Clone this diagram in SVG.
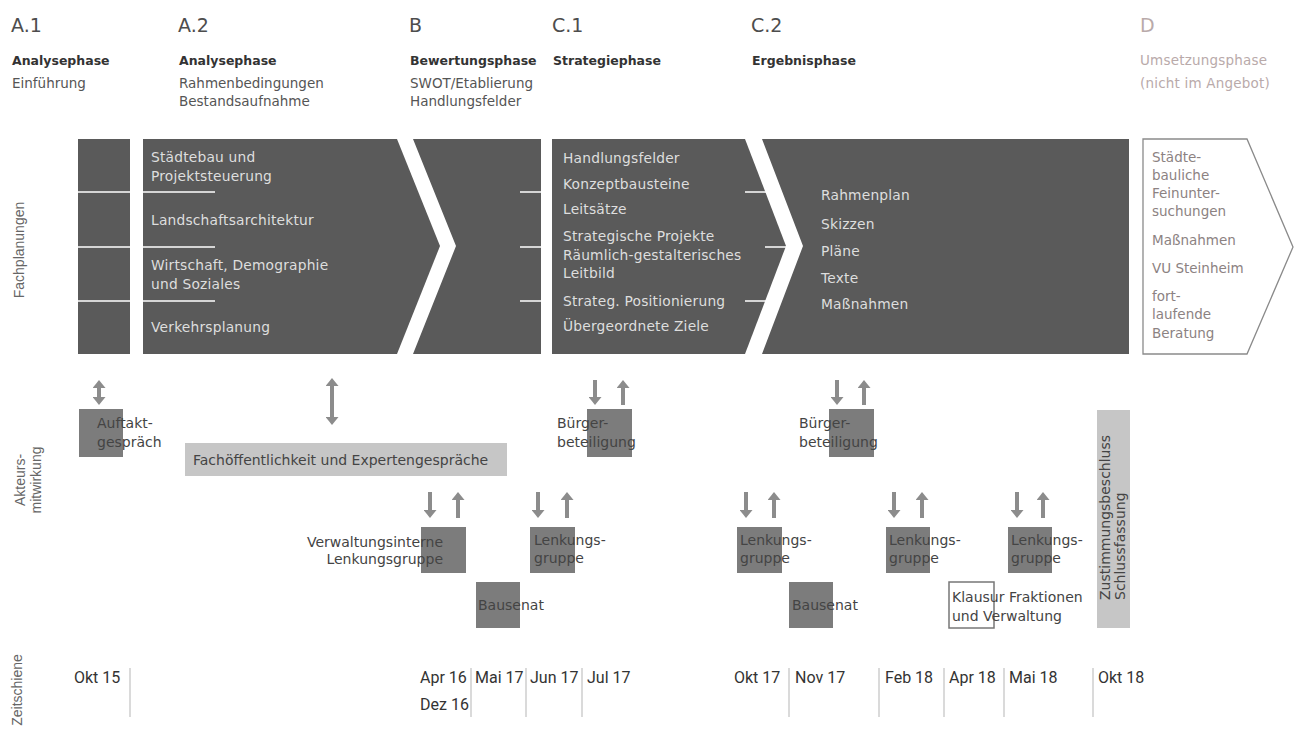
<svg xmlns="http://www.w3.org/2000/svg" width="1295" height="731" viewBox="0 0 1295 731">
<style>
 text{font-family:"DejaVu Sans",sans-serif;}
 .pid{font-size:19px;fill:#4d4d4d;}
 .pname{font-size:12.5px;font-weight:bold;fill:#333;}
 .psub{font-size:13.5px;fill:#555;}
 .dh{fill:#b9aaaa;}
 .blk{fill:#5a5a5a;}
 .bt{font-size:13.8px;fill:#dedede;letter-spacing:0.2px;}
 .sep{stroke:#fff;stroke-width:1.5;}
 .dbox{fill:#fff;stroke:#8a8a8a;stroke-width:1.3;}
 .dt{font-size:13.5px;fill:#8c8282;}
 .side{font-family:"Liberation Sans",sans-serif;font-size:14px;fill:#666;}
 .box{fill:#7c7c7c;}
 .lbox{fill:#c6c6c6;}
 .obox{fill:none;stroke:#777;stroke-width:1.5;}
 .lab{font-size:14px;fill:#444;}
 .arr{stroke:#8c8c8c;stroke-width:4;fill:none;marker-end:url(#ah);}
 .dbl{marker-start:url(#ah);}
 .tl{font-family:Roboto,sans-serif;font-size:16px;fill:#333;}
 .tick{stroke:#b5b5b5;stroke-width:1;}
</style>
<defs>
 <marker id="ah" viewBox="0 0 8 13" refX="0" refY="6.5" markerWidth="8" markerHeight="13" markerUnits="userSpaceOnUse" orient="auto-start-reverse">
  <path d="M0,0 L8,6.5 L0,13 z" fill="#8c8c8c"/>
 </marker>
</defs>

<g id="headers">
 <g id="h-a1">
  <text class="pid" x="11" y="32">A.1</text>
  <text class="pname" x="12" y="65">Analysephase</text>
  <text class="psub" x="12" y="88">Einführung</text>
 </g>
 <g id="h-a2">
  <text class="pid" x="178" y="32">A.2</text>
  <text class="pname" x="179" y="65">Analysephase</text>
  <text class="psub" x="179" y="88">Rahmenbedingungen</text>
  <text class="psub" x="179" y="106">Bestandsaufnahme</text>
 </g>
 <g id="h-b">
  <text class="pid" x="409" y="32">B</text>
  <text class="pname" x="410" y="65">Bewertungsphase</text>
  <text class="psub" x="410" y="88">SWOT/Etablierung</text>
  <text class="psub" x="410" y="106">Handlungsfelder</text>
 </g>
 <g id="h-c1">
  <text class="pid" x="552" y="32">C.1</text>
  <text class="pname" x="553" y="65">Strategiephase</text>
 </g>
 <g id="h-c2">
  <text class="pid" x="751" y="32">C.2</text>
  <text class="pname" x="752" y="65">Ergebnisphase</text>
 </g>
 <g id="h-d">
  <text class="pid dh" x="1140" y="32">D</text>
  <text class="psub dh" x="1140" y="65" letter-spacing="0.2">Umsetzungsphase</text>
  <text class="psub dh" x="1140" y="88" letter-spacing="0.2">(nicht im Angebot)</text>
 </g>
</g>

<g id="side-labels">
 <text class="side" transform="translate(24,250) rotate(-90)" text-anchor="middle">Fachplanungen</text>
 <text class="side" transform="translate(25,480) rotate(-90)" text-anchor="middle">Akteurs-</text>
 <text class="side" transform="translate(41,480) rotate(-90)" text-anchor="middle">mitwirkung</text>
 <text class="side" transform="translate(22,690) rotate(-90)" text-anchor="middle">Zeitschiene</text>
</g>

<g id="block-a1">
 <rect class="blk" x="78" y="139" width="52" height="215"/>
</g>
<g id="block-a2">
 <polygon class="blk" points="143,139 397,139 440,246 397,354 143,354"/>
 <text class="bt" x="151" y="162">Städtebau und</text>
 <text class="bt" x="151" y="181">Projektsteuerung</text>
 <text class="bt" x="151" y="225">Landschaftsarchitektur</text>
 <text class="bt" x="151" y="270">Wirtschaft, Demographie</text>
 <text class="bt" x="151" y="289">und Soziales</text>
 <text class="bt" x="151" y="332">Verkehrsplanung</text>
</g>
<g id="block-b">
 <polygon class="blk" points="413,139 541,139 541,354 413,354 456,246"/>
</g>
<g id="block-c1">
 <polygon class="blk" points="552,139 745,139 786,246 745,354 552,354"/>
 <text class="bt" x="563" y="163">Handlungsfelder</text>
 <text class="bt" x="563" y="189">Konzeptbausteine</text>
 <text class="bt" x="563" y="214">Leitsätze</text>
 <text class="bt" x="563" y="241">Strategische Projekte</text>
 <text class="bt" x="563" y="260">Räumlich-gestalterisches</text>
 <text class="bt" x="563" y="278">Leitbild</text>
 <text class="bt" x="563" y="306">Strateg. Positionierung</text>
 <text class="bt" x="563" y="331">Übergeordnete Ziele</text>
</g>
<g id="block-c2">
 <polygon class="blk" points="762,139 1129,139 1129,354 762,354 803,246"/>
 <text class="bt" x="821" y="200">Rahmenplan</text>
 <text class="bt" x="821" y="229">Skizzen</text>
 <text class="bt" x="821" y="256">Pläne</text>
 <text class="bt" x="821" y="283">Texte</text>
 <text class="bt" x="821" y="309">Maßnahmen</text>
</g>
<g id="block-d">
 <polygon class="dbox" points="1143,139 1247,139 1293,247 1247,354 1143,354"/>
 <text class="dt" x="1152" y="162">Städte-</text>
 <text class="dt" x="1152" y="180">bauliche</text>
 <text class="dt" x="1152" y="198">Feinunter-</text>
 <text class="dt" x="1152" y="216">suchungen</text>
 <text class="dt" x="1152" y="245">Maßnahmen</text>
 <text class="dt" x="1152" y="273">VU Steinheim</text>
 <text class="dt" x="1152" y="301">fort-</text>
 <text class="dt" x="1152" y="319">laufende</text>
 <text class="dt" x="1152" y="338">Beratung</text>
</g>
<g id="block-separators">
 <line class="sep" x1="78" y1="192" x2="215" y2="192"/>
 <line class="sep" x1="78" y1="247" x2="215" y2="247"/>
 <line class="sep" x1="78" y1="301" x2="215" y2="301"/>
 <line class="sep" x1="520" y1="192" x2="541" y2="192"/>
 <line class="sep" x1="520" y1="247" x2="541" y2="247"/>
 <line class="sep" x1="520" y1="301" x2="541" y2="301"/>
 <line class="sep" x1="745" y1="192" x2="768" y2="192"/>
 <line class="sep" x1="765" y1="247" x2="788" y2="247"/>
 <line class="sep" x1="745" y1="301" x2="766" y2="301"/>
</g>

<g id="actor-nodes">
 <g id="n-auftakt">
  <rect class="box" x="79" y="409" width="44" height="48"/>
  <text class="lab" x="97" y="428">Auftakt-</text>
  <text class="lab" x="97" y="447">gespräch</text>
 </g>
 <g id="n-fach">
  <rect class="lbox" x="185" y="443" width="322" height="33"/>
  <text class="lab" x="193" y="465">Fachöffentlichkeit und Expertengespräche</text>
 </g>
 <g id="n-buerger1">
  <rect class="box" x="587" y="409" width="45" height="48"/>
  <text class="lab" x="557" y="428">Bürger-</text>
  <text class="lab" x="557" y="447">beteiligung</text>
 </g>
 <g id="n-buerger2">
  <rect class="box" x="829" y="409" width="45" height="48"/>
  <text class="lab" x="799" y="428">Bürger-</text>
  <text class="lab" x="799" y="447">beteiligung</text>
 </g>
 <g id="n-verw">
  <rect class="box" x="421" y="527" width="45" height="46"/>
  <text class="lab" x="443" y="547" text-anchor="end">Verwaltungsinterne</text>
  <text class="lab" x="443" y="564" text-anchor="end">Lenkungsgruppe</text>
 </g>
 <g id="n-lenk1">
  <rect class="box" x="530" y="527" width="45" height="46"/>
  <text class="lab" x="534" y="545">Lenkungs-</text>
  <text class="lab" x="534" y="563">gruppe</text>
 </g>
 <g id="n-lenk2">
  <rect class="box" x="737" y="527" width="45" height="46"/>
  <text class="lab" x="740" y="545">Lenkungs-</text>
  <text class="lab" x="740" y="563">gruppe</text>
 </g>
 <g id="n-lenk3">
  <rect class="box" x="886" y="527" width="44" height="46"/>
  <text class="lab" x="889" y="545">Lenkungs-</text>
  <text class="lab" x="889" y="563">gruppe</text>
 </g>
 <g id="n-lenk4">
  <rect class="box" x="1008" y="527" width="44" height="46"/>
  <text class="lab" x="1011" y="545">Lenkungs-</text>
  <text class="lab" x="1011" y="563">gruppe</text>
 </g>
 <g id="n-bausenat1">
  <rect class="box" x="476" y="582" width="44" height="46"/>
  <text class="lab" x="478" y="610">Bausenat</text>
 </g>
 <g id="n-bausenat2">
  <rect class="box" x="789" y="582" width="44" height="46"/>
  <text class="lab" x="792" y="610">Bausenat</text>
 </g>
 <g id="n-klausur">
  <rect class="obox" x="949" y="582" width="45" height="46"/>
  <text class="lab" x="952" y="602">Klausur Fraktionen</text>
  <text class="lab" x="952" y="621">und Verwaltung</text>
 </g>
 <g id="n-zustimmung">
  <rect class="lbox" x="1097" y="410" width="33" height="218"/>
  <text class="lab" transform="translate(1110,600) rotate(-90)">Zustimmungsbeschluss</text>
  <text class="lab" transform="translate(1125,600) rotate(-90)">Schlussfassung</text>
 </g>
</g>

<g id="connectors">
 <line class="arr dbl" x1="99" y1="388" x2="99" y2="397"/>
 <line class="arr dbl" x1="332" y1="386" x2="332" y2="417"/>
 <line class="arr" x1="595" y1="380" x2="595" y2="397"/>
 <line class="arr" x1="623" y1="405" x2="623" y2="388"/>
 <line class="arr" x1="837" y1="380" x2="837" y2="397"/>
 <line class="arr" x1="864" y1="405" x2="864" y2="388"/>
 <line class="arr" x1="430" y1="492" x2="430" y2="510"/>
 <line class="arr" x1="458" y1="518" x2="458" y2="500"/>
 <line class="arr" x1="538" y1="492" x2="538" y2="510"/>
 <line class="arr" x1="567" y1="518" x2="567" y2="500"/>
 <line class="arr" x1="746" y1="492" x2="746" y2="510"/>
 <line class="arr" x1="774" y1="518" x2="774" y2="500"/>
 <line class="arr" x1="894" y1="492" x2="894" y2="510"/>
 <line class="arr" x1="922" y1="518" x2="922" y2="500"/>
 <line class="arr" x1="1017" y1="492" x2="1017" y2="510"/>
 <line class="arr" x1="1043" y1="518" x2="1043" y2="500"/>
</g>

<g id="timeline">
 <line class="tick" x1="130" y1="668" x2="130" y2="717"/>
 <line class="tick" x1="471" y1="668" x2="471" y2="717"/>
 <line class="tick" x1="526" y1="668" x2="526" y2="717"/>
 <line class="tick" x1="582" y1="668" x2="582" y2="717"/>
 <line class="tick" x1="789" y1="668" x2="789" y2="717"/>
 <line class="tick" x1="879" y1="668" x2="879" y2="717"/>
 <line class="tick" x1="944" y1="668" x2="944" y2="717"/>
 <line class="tick" x1="1004" y1="668" x2="1004" y2="717"/>
 <line class="tick" x1="1093" y1="668" x2="1093" y2="717"/>
 <text class="tl" x="74" y="683">Okt 15</text>
 <text class="tl" x="420" y="683">Apr 16</text>
 <text class="tl" x="420" y="710">Dez 16</text>
 <text class="tl" x="475" y="683">Mai 17</text>
 <text class="tl" x="530" y="683">Jun 17</text>
 <text class="tl" x="587" y="683">Jul 17</text>
 <text class="tl" x="734" y="683">Okt 17</text>
 <text class="tl" x="795" y="683">Nov 17</text>
 <text class="tl" x="885" y="683">Feb 18</text>
 <text class="tl" x="949" y="683">Apr 18</text>
 <text class="tl" x="1009" y="683">Mai 18</text>
 <text class="tl" x="1098" y="683">Okt 18</text>
</g>
</svg>
